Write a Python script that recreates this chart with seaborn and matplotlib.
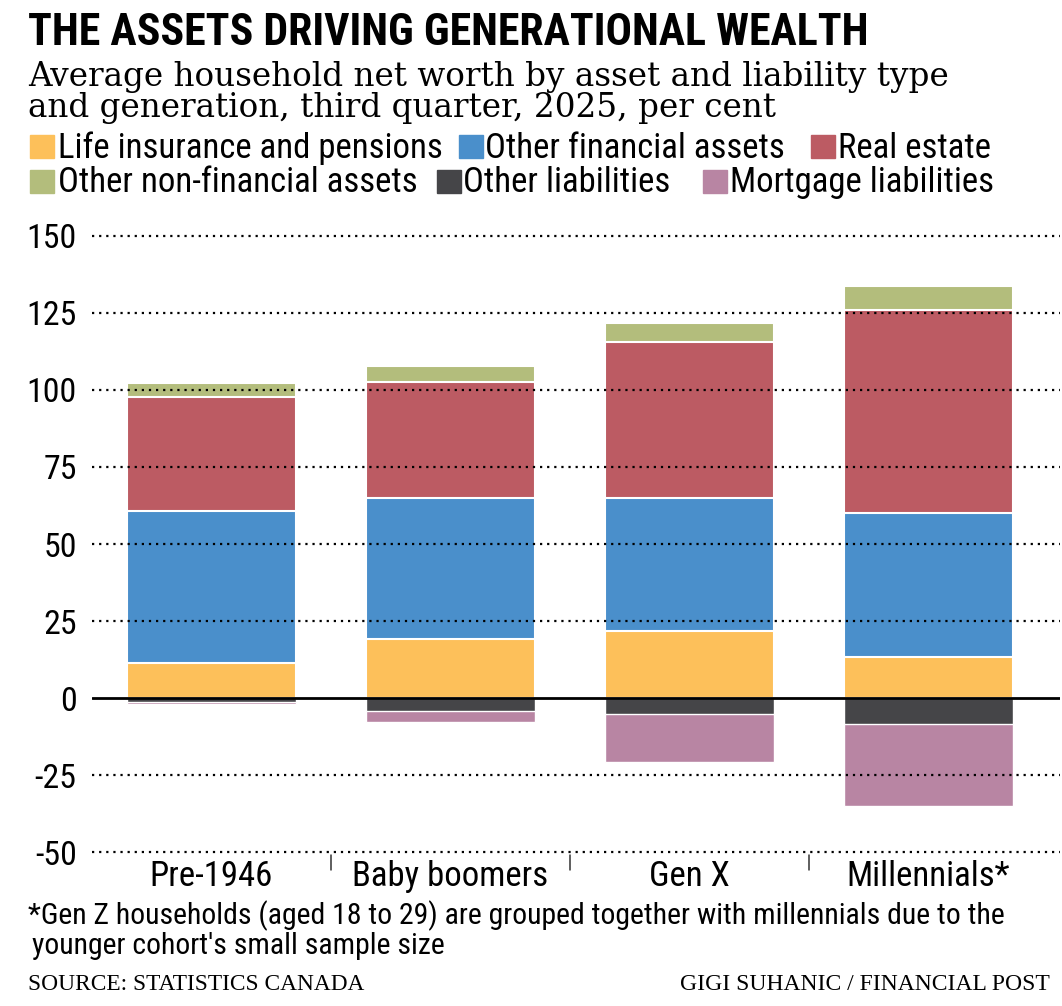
import matplotlib
matplotlib.use("Agg")
import matplotlib.pyplot as plt
from matplotlib.patches import Rectangle
import numpy as np
import pandas as pd
import seaborn as sns

generations = ["Pre-1946", "Baby boomers", "Gen X", "Millennials*"]

# per cent of average household net worth
life_insurance = [11.5, 19.2, 21.8, 13.4]
other_financial = [49.2, 45.7, 43.1, 46.7]
real_estate = [37.0, 37.7, 50.8, 65.8]
other_nonfinancial = [4.6, 5.2, 6.0, 7.9]
other_liabilities = [-1.3, -4.2, -5.2, -8.3]
mortgage_liabilities = [-0.8, -3.7, -15.6, -26.8]

series_names = ["Life insurance and pensions", "Other financial assets", "Real estate",
                "Other non-financial assets", "Other liabilities", "Mortgage liabilities"]
colours = ["#FDC05A", "#4A8FCB", "#BC5B63", "#B3BD7C", "#454548", "#B885A3"]

yticks = [150, 125, 100, 75, 50, 25, 0, -25, -50]

sns.set_theme(style="white")
SANS = ["Roboto Condensed", "DejaVu Sans"]
SERIF = ["DejaVu Serif", "Liberation Serif"]
plt.rcParams["font.family"] = SANS
plt.rcParams["text.color"] = "black"
plt.rcParams["xtick.color"] = "black"
plt.rcParams["ytick.color"] = "black"

W, H = 1062, 1006
fig = plt.figure(figsize=(W / 100, H / 100), dpi=100)
fig.patch.set_facecolor("white")

# axes placed so -50 sits at y=852 px and 150 at y=236 px
ax = fig.add_axes([92 / W, (H - 858.2) / H, 968 / W, 628.4 / H])

df = pd.DataFrame({
    "gen": generations,
    "life": life_insurance,
    "fin": other_financial,
    "re": real_estate,
    "nonfin": other_nonfinancial,
    "oliab": other_liabilities,
    "mort": mortgage_liabilities,
})

# stacked bars drawn as overlapping cumulative bars, tallest first
pos_cols = ["life", "fin", "re", "nonfin"]
cum = df[pos_cols].cumsum(axis=1)
for col, c in reversed(list(zip(pos_cols, colours[:4]))):
    sns.barplot(x=df["gen"], y=cum[col], color=c, width=0.71, saturation=1,
                edgecolor="white", linewidth=1.5, errorbar=None, ax=ax)

neg_cols = ["oliab", "mort"]
ncum = df[neg_cols].cumsum(axis=1)
for col, c in reversed(list(zip(neg_cols, colours[4:]))):
    sns.barplot(x=df["gen"], y=ncum[col], color=c, width=0.71, saturation=1,
                edgecolor="white", linewidth=1.0, errorbar=None, ax=ax)

ax.set_xlim(-0.5, 3.55)
ax.set_ylim(-52, 152)
ax.set_yticks(yticks)
ax.set_yticklabels([str(t) for t in yticks], fontsize=24.5, color="black")
ax.set_xticks(range(len(generations)))
ax.set_xticklabels(generations, fontsize=25, color="black")
ax.tick_params(axis="y", length=0, pad=11)
ax.tick_params(axis="x", length=0, pad=1)
ax.set_xlabel("")
ax.set_ylabel("")
for s in ax.spines.values():
    s.set_visible(False)

for t in yticks:
    if t != 0:
        ax.axhline(t, color="black", lw=1.6, ls=(0, (1, 2.2)), zorder=5)
ax.axhline(0, color="black", lw=2.0, zorder=6)

# separators between categories
for xs in [0.5, 1.5, 2.5]:
    ax.plot([xs, xs], [0.005, -0.019], color="#333333", lw=1.1,
            transform=ax.get_xaxis_transform(), clip_on=False)

# titles
fig.text(28 / W, 1 - 45 / H, "THE ASSETS DRIVING GENERATIONAL WEALTH",
         fontsize=31.6, fontweight="bold", family=SANS, va="baseline", color="black")
fig.text(28 / W, 1 - 86 / H, "Average household net worth by asset and liability type",
         fontsize=23.5, family=SERIF, va="baseline", color="black")
fig.text(28 / W, 1 - 117 / H, "and generation, third quarter, 2025, per cent",
         fontsize=23.5, family=SERIF, va="baseline", color="black")

# legend
squares = [(30, 135), (459, 135), (811, 135), (30, 170), (437, 170), (703, 170)]
label_x = [58, 485, 838, 58, 463, 730]
for name, c, (sx, sy), tx in zip(series_names, colours, squares, label_x):
    fig.patches.append(Rectangle((sx / W, 1 - (sy + 23) / H), 24 / W, 23 / H,
                                 transform=fig.transFigure, color=c, figure=fig))
    fig.text(tx / W, 1 - (sy + 13) / H, name, fontsize=25, family=SANS,
             va="center", color="black")

# footnote and credits
fig.text(28 / W, 1 - 916 / H,
         "*Gen Z households (aged 18 to 29) are grouped together with millennials due to the",
         fontsize=21.4, family=SANS, va="center", color="black")
fig.text(32 / W, 1 - 946 / H, "younger cohort's small sample size",
         fontsize=21.4, family=SANS, va="center", color="black")
fig.text(28 / W, 1 - 985 / H, "SOURCE: STATISTICS CANADA",
         fontsize=16.8, family=["Liberation Serif"], va="center", color="black")
fig.text(1050 / W, 1 - 985 / H, "GIGI SUHANIC / FINANCIAL POST",
         fontsize=17, family=["Liberation Serif"], va="center", ha="right", color="black")

fig.savefig("out.png", dpi=100, facecolor="white")
